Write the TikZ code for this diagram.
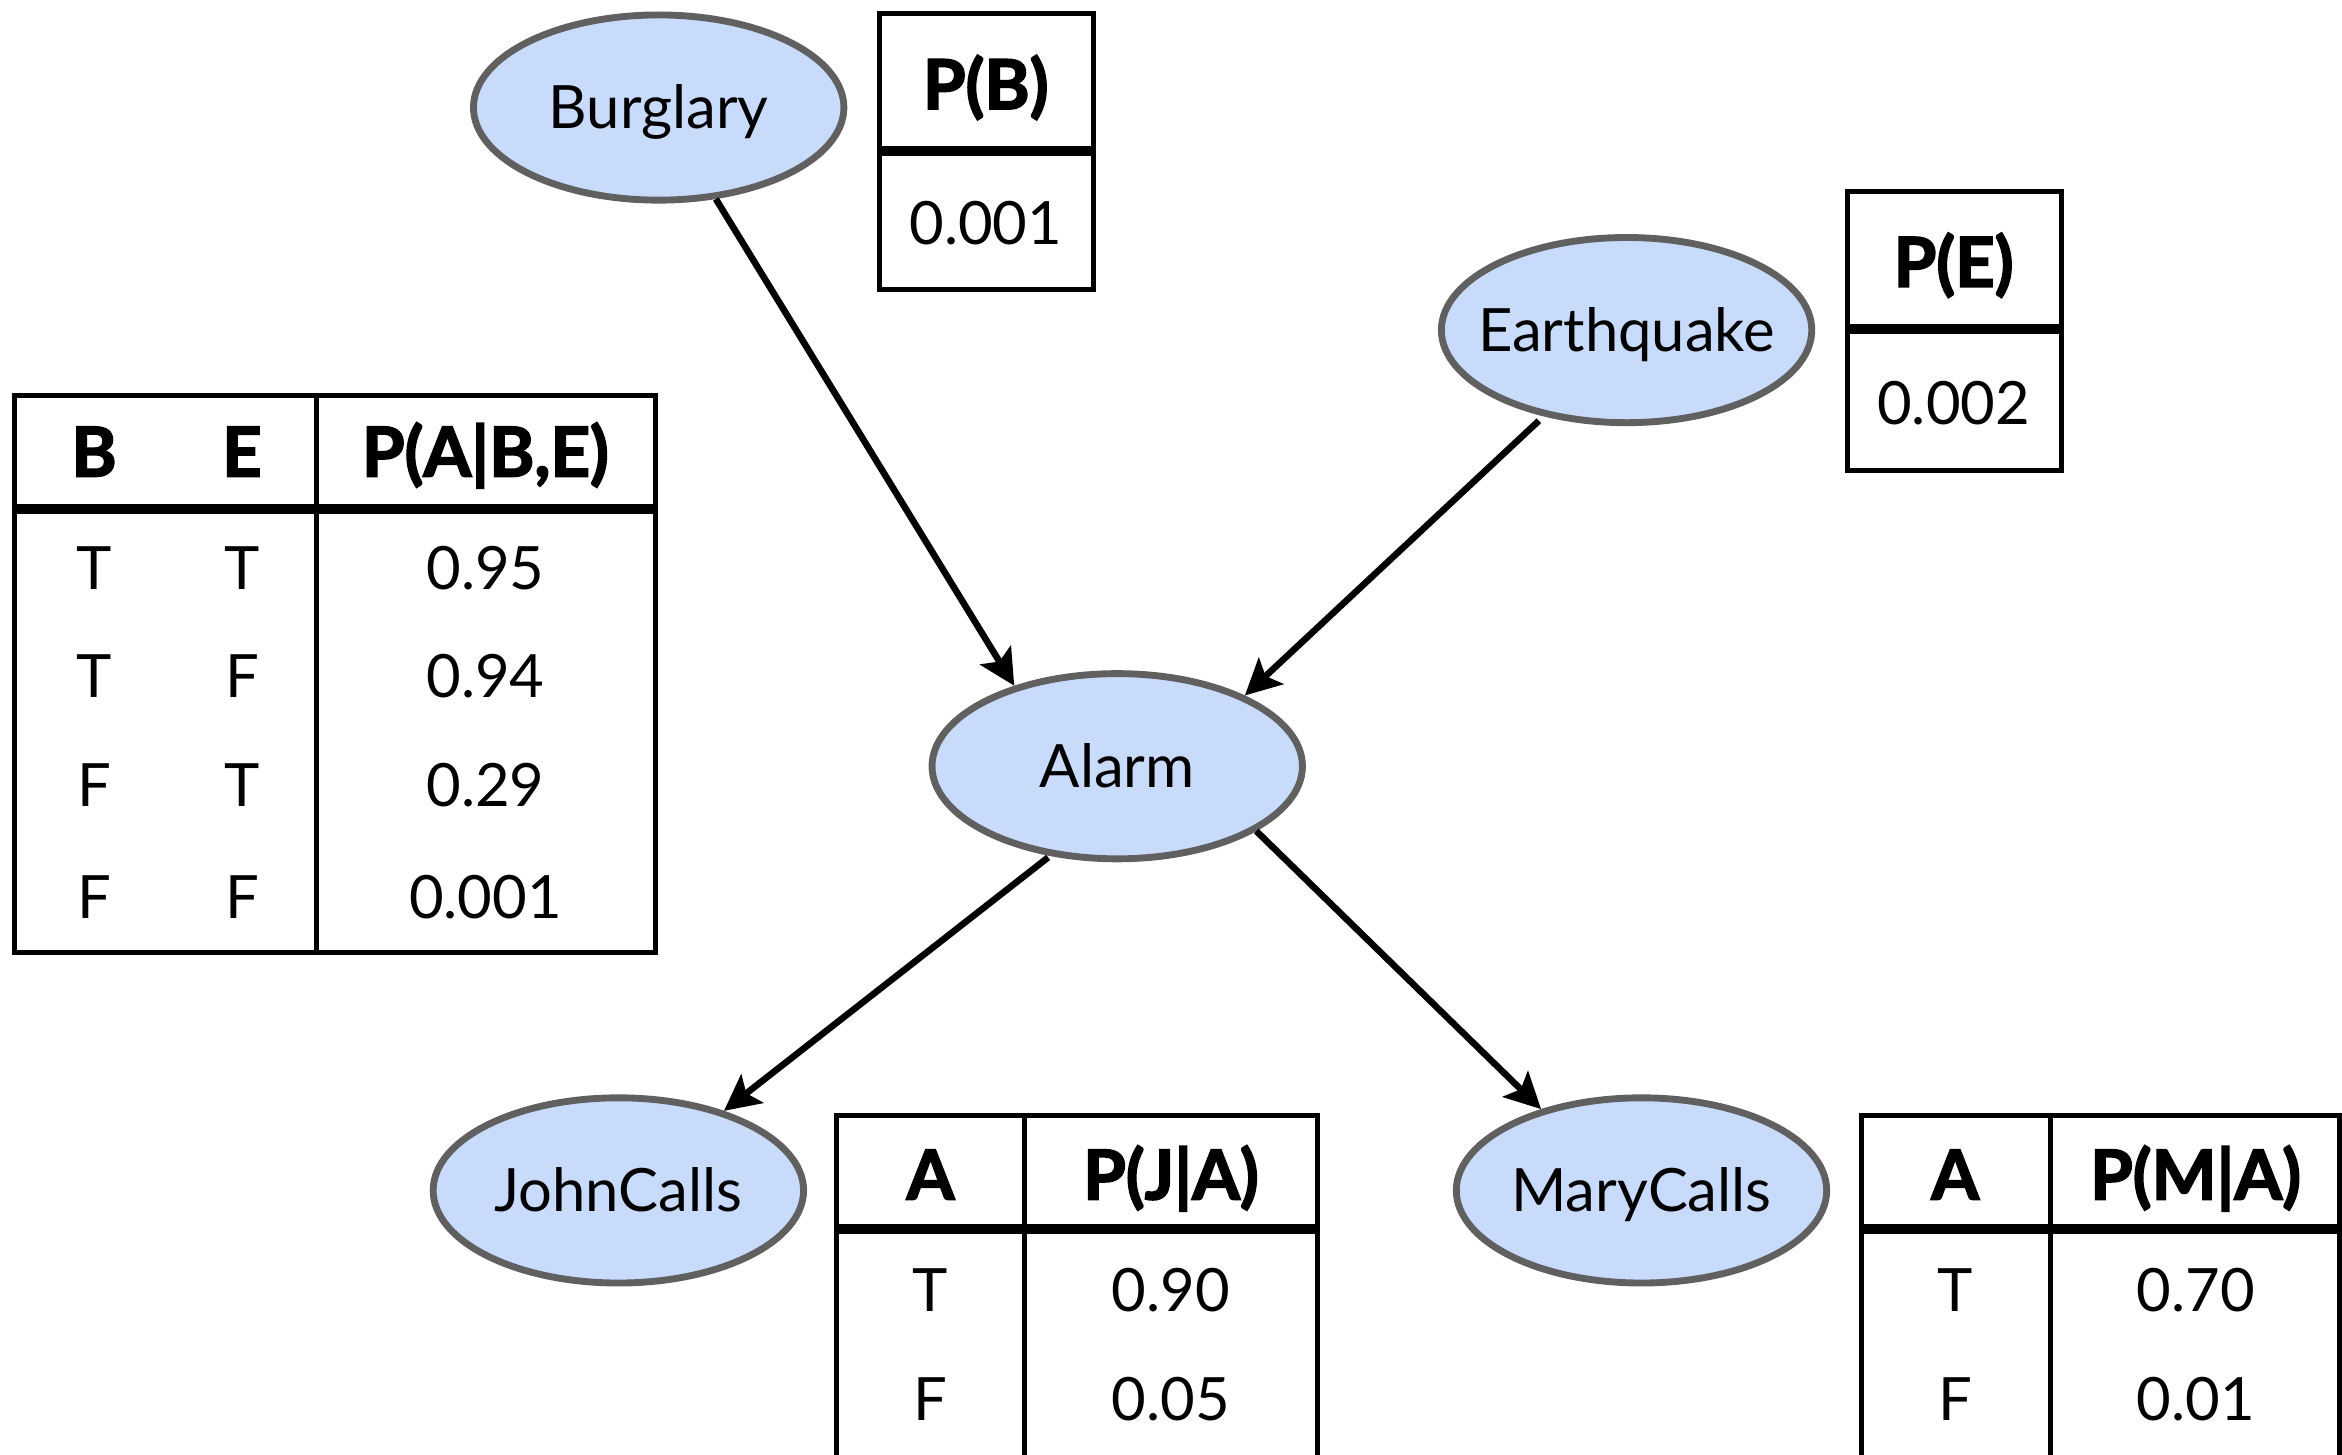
\documentclass[tikz,border=0pt]{standalone}
\usepackage{fontspec}
\setmainfont{Lato}
\newfontfamily\heavyfont{Lato}[FakeBold=2.5]
\usetikzlibrary{shapes.geometric,arrows.meta}
\definecolor{nodefill}{RGB}{200,219,251}
\definecolor{nodeedge}{RGB}{96,96,96}
\newcommand{\zlbl}[1]{\makebox[0pt]{#1}}
\begin{document}
\begin{tikzpicture}[x=0.5pt,y=-0.5pt,
  bnode/.style={ellipse,draw=nodeedge,fill=nodefill,line width=2.3pt,minimum width=124pt,minimum height=62pt,inner sep=0pt,text height=14pt,text depth=0pt,font=\fontsize{20}{24}\selectfont},
  edge/.style={line width=2.2pt,-{Stealth[length=12pt,width=12pt,inset=2.5pt]}},
  tline/.style={line width=1.7pt},
  tsep/.style={line width=3.4pt},
  cell/.style={font=\fontsize{20}{24}\selectfont,inner sep=0pt,text height=14pt,text depth=0pt},
  head/.style={font=\fontsize{23}{27}\selectfont\heavyfont\bfseries,inner sep=0pt,text height=16pt,text depth=0pt}
]
\useasboundingbox (0,0) rectangle (1568,974);
\clip (0,0) rectangle (1568,974);

% network nodes
\node[bnode] (B) at (441,72) {\zlbl{Burglary}};
\node[bnode] (E) at (1089,221) {\zlbl{Earthquake}};
\node[bnode] (A) at (748,513) {\zlbl{Alarm}};
\node[bnode] (J) at (414,797) {\zlbl{JohnCalls}};
\node[bnode] (M) at (1099,797) {\zlbl{MaryCalls}};

% edges
\draw[edge] (B.-58) -- (A.142);
\draw[edge] ([shift={(-3,3)}]E.-134) -- (A.29);
\draw[edge] ([shift={(-1,1)}]A.-127) -- (J.37);
\draw[edge] (A.-25) -- (M.141);

% P(B) table
\draw[tline] (589,9) rectangle (732,194);
\draw[tsep] (589,101) -- (732,101);
\node[head] (pbh) at (660,57) {P(B)};
\node[cell] (pbv) at (660,150) {0.001};

% P(E) table
\draw[tline] (1237,128) rectangle (1380,315);
\draw[tsep] (1237,220) -- (1380,220);
\node[head] (peh) at (1308,176) {P(E)};
\node[cell] (pev) at (1308,270) {0.002};

% P(A|B,E) table
\draw[tline] (10,265) rectangle (439,638);
\draw[tline] (212,265) -- (212,638);
\draw[tsep] (10,341) -- (439,341);
\node[head] (ah1) at (63,303) {B};
\node[head] (ah2) at (162,303) {E};
\node[head] (ah3) at (325,303) {P(A|B,E)};
\node[cell] (a11) at (63,381) {T};
\node[cell] (a12) at (162,381) {T};
\node[cell] (a13) at (325,381) {0.95};
\node[cell] (a21) at (63,453) {T};
\node[cell] (a22) at (162,453) {F};
\node[cell] (a23) at (325,453) {0.94};
\node[cell] (a31) at (63,526) {F};
\node[cell] (a32) at (162,526) {T};
\node[cell] (a33) at (325,526) {0.29};
\node[cell] (a41) at (63,601) {F};
\node[cell] (a42) at (162,601) {F};
\node[cell] (a43) at (325,601) {0.001};

% P(J|A) table
\draw[tline] (560,747) rectangle (882,1000);
\draw[tline] (686,747) -- (686,1000);
\draw[tsep] (560,823) -- (882,823);
\node[head] (jh1) at (623,787) {A};
\node[head] (jh2) at (784,787) {P(J|A)};
\node[cell] (j11) at (623,864) {T};
\node[cell] (j12) at (784,864) {0.90};
\node[cell] (j21) at (623,937) {F};
\node[cell] (j22) at (784,937) {0.05};

% P(M|A) table
\draw[tline] (1246,747) rectangle (1566,1000);
\draw[tline] (1373,747) -- (1373,1000);
\draw[tsep] (1246,823) -- (1566,823);
\node[head] (mh1) at (1309,787) {A};
\node[head] (mh2) at (1470,787) {P(M|A)};
\node[cell] (m11) at (1309,864) {T};
\node[cell] (m12) at (1470,864) {0.70};
\node[cell] (m21) at (1309,937) {F};
\node[cell] (m22) at (1470,937) {0.01};
\end{tikzpicture}
\end{document}
